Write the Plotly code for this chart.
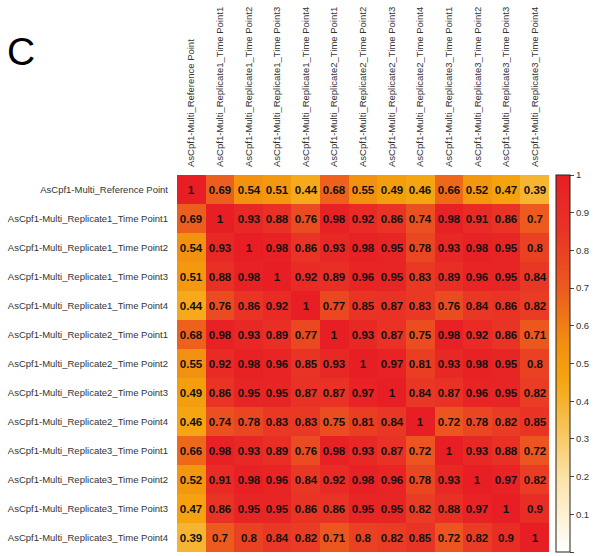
import plotly.graph_objects as go

# Sample labels (rows and columns share the same order)
samples = [
    "AsCpf1-Multi_Reference Point",
    "AsCpf1-Multi_Replicate1_Time Point1",
    "AsCpf1-Multi_Replicate1_Time Point2",
    "AsCpf1-Multi_Replicate1_Time Point3",
    "AsCpf1-Multi_Replicate1_Time Point4",
    "AsCpf1-Multi_Replicate2_Time Point1",
    "AsCpf1-Multi_Replicate2_Time Point2",
    "AsCpf1-Multi_Replicate2_Time Point3",
    "AsCpf1-Multi_Replicate2_Time Point4",
    "AsCpf1-Multi_Replicate3_Time Point1",
    "AsCpf1-Multi_Replicate3_Time Point2",
    "AsCpf1-Multi_Replicate3_Time Point3",
    "AsCpf1-Multi_Replicate3_Time Point4",
]

# Pairwise correlation coefficients
corr = [
    [1, 0.69, 0.54, 0.51, 0.44, 0.68, 0.55, 0.49, 0.46, 0.66, 0.52, 0.47, 0.39],
    [0.69, 1, 0.93, 0.88, 0.76, 0.98, 0.92, 0.86, 0.74, 0.98, 0.91, 0.86, 0.7],
    [0.54, 0.93, 1, 0.98, 0.86, 0.93, 0.98, 0.95, 0.78, 0.93, 0.98, 0.95, 0.8],
    [0.51, 0.88, 0.98, 1, 0.92, 0.89, 0.96, 0.95, 0.83, 0.89, 0.96, 0.95, 0.84],
    [0.44, 0.76, 0.86, 0.92, 1, 0.77, 0.85, 0.87, 0.83, 0.76, 0.84, 0.86, 0.82],
    [0.68, 0.98, 0.93, 0.89, 0.77, 1, 0.93, 0.87, 0.75, 0.98, 0.92, 0.86, 0.71],
    [0.55, 0.92, 0.98, 0.96, 0.85, 0.93, 1, 0.97, 0.81, 0.93, 0.98, 0.95, 0.8],
    [0.49, 0.86, 0.95, 0.95, 0.87, 0.87, 0.97, 1, 0.84, 0.87, 0.96, 0.95, 0.82],
    [0.46, 0.74, 0.78, 0.83, 0.83, 0.75, 0.81, 0.84, 1, 0.72, 0.78, 0.82, 0.85],
    [0.66, 0.98, 0.93, 0.89, 0.76, 0.98, 0.93, 0.87, 0.72, 1, 0.93, 0.88, 0.72],
    [0.52, 0.91, 0.98, 0.96, 0.84, 0.92, 0.98, 0.96, 0.78, 0.93, 1, 0.97, 0.82],
    [0.47, 0.86, 0.95, 0.95, 0.86, 0.86, 0.95, 0.95, 0.82, 0.88, 0.97, 1, 0.9],
    [0.39, 0.7, 0.8, 0.84, 0.82, 0.71, 0.8, 0.82, 0.85, 0.72, 0.82, 0.9, 1],
]

colorbar_ticks = [0, 0.1, 0.2, 0.3, 0.4, 0.5, 0.6, 0.7, 0.8, 0.9, 1]

cell_text = [[f"{v:g}" for v in row] for row in corr]

W, H = 594, 556
ML, MR, MT, MB = 177, 41, 175, 4
plot_w = W - ML - MR
plot_h = H - MT - MB

FONT = "Liberation Sans, Arial, sans-serif"

scale = [
    [0.0, "#FFFFFF"],
    [0.2, "#FBE2A6"],
    [0.4, "#F5B22C"],
    [0.47, "#F5A20E"],
    [0.55, "#F2900F"],
    [0.7, "#EC5A1E"],
    [0.85, "#E93425"],
    [1.0, "#E81E25"],
]

fig = go.Figure(
    go.Heatmap(
        z=corr,
        x=samples,
        y=samples,
        zmin=0,
        zmax=1,
        colorscale=scale,
        text=cell_text,
        texttemplate="%{text}",
        textfont=dict(family=FONT, size=11.5, color="#111111", weight="bold"),
        hoverongaps=False,
        colorbar=dict(
            x=(560 - ML) / plot_w,
            xanchor="left",
            xpad=0,
            y=0,
            yanchor="bottom",
            ypad=0,
            len=1,
            lenmode="fraction",
            thickness=14,
            outlinewidth=1,
            outlinecolor="#222222",
            tickvals=colorbar_ticks,
            ticks="outside",
            ticklen=4,
            tickcolor="#444444",
            tickfont=dict(family=FONT, size=9.5, color="#333333"),
        ),
    )
)

fig.update_xaxes(
    side="top",
    tickangle=-90,
    showgrid=False,
    zeroline=False,
    ticks="",
    ticklabelstandoff=7,
    tickfont=dict(family=FONT, size=9.5, color="#333333"),
)
fig.update_yaxes(
    autorange="reversed",
    showgrid=False,
    zeroline=False,
    ticks="",
    ticklabelstandoff=8,
    tickfont=dict(family=FONT, size=9.5, color="#333333"),
)

fig.add_annotation(
    text="C",
    xref="paper",
    yref="paper",
    x=(3 - ML) / plot_w,
    y=1 + (MT - 28) / plot_h,
    xanchor="left",
    yanchor="top",
    showarrow=False,
    font=dict(family=FONT, size=39, color="#000000"),
)

fig.update_layout(
    width=W,
    height=H,
    margin=dict(l=ML, r=MR, t=MT, b=MB),
    paper_bgcolor="white",
    plot_bgcolor="white",
)

fig.write_html("out.html")
